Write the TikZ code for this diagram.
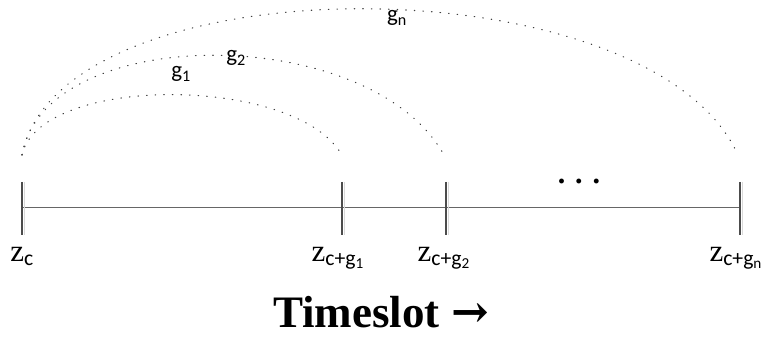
\documentclass[tikz,border=0pt]{standalone}
\usepackage{fontspec}
\setmainfont{Liberation Serif}
\newfontfamily\gfont{Carlito}
\newfontfamily\symfont{DejaVu Serif}
\usetikzlibrary{positioning}

\begin{document}
\begin{tikzpicture}[
    x=1pt, y=-1pt,
    axis/.style={draw=black!60, line width=1pt},
    tick/.style={draw=black!70, line width=1.2pt},
    tickshade/.style={draw=black!15, line width=1pt},
    arc/.style={draw=black!75, line width=1.1pt, dash pattern=on 0.6pt off 8pt, line cap=round},
    zlbl/.style={anchor=base, inner sep=0pt, font=\fontsize{31}{34}\selectfont},
    glbl/.style={inner sep=0pt, font=\gfont\fontsize{23}{26}\selectfont},
    title/.style={anchor=base, font=\bfseries\fontsize{45}{50}\selectfont}
]
\useasboundingbox (0,0) rectangle (761,339);

% Timeline ticks
\coordinate (t0) at (22,208);
\coordinate (t1) at (342,208);
\coordinate (t2) at (446,208);
\coordinate (t3) at (740,208);
\draw[axis] (t0) -- (t3);
\foreach \t in {t0,t1,t2,t3} {
  \draw[tickshade] ([xshift=2.5pt,yshift=26pt]\t) -- ([xshift=2.5pt,yshift=-27pt]\t);
  \draw[tick] ([yshift=26pt]\t) -- ([yshift=-27pt]\t);
}

% Arc end points
\coordinate (a0) at (22,155);
\coordinate (a1) at (340,152);
\coordinate (a2) at (444,155);
\coordinate (a3) at (738,155);
\draw[arc] (a0) .. controls (40,75) and (290,75) .. (a1);
\draw[arc] (a0) .. controls (45,22) and (370,22) .. (a2);
\draw[arc] (a0) .. controls (60,-40) and (650,-40) .. (a3);

% Arc labels
\node[glbl] (g1) at (181,74) {g\textsubscript{1}};
\node[glbl] (g2) at (236,58) {g\textsubscript{2}};
\node[glbl] (gn) at (397,18) {g\textsubscript{n}};

% Tick labels, centred under the ticks
\node[zlbl] (z0) at ([yshift=-54pt]t0) {z\textsubscript{\gfont c}};
\node[zlbl] (z1) at ([xshift=-4pt,yshift=-54pt]t1) {z\textsubscript{\gfont c+g\textsubscript{1}}};
\node[zlbl] (z2) at ([xshift=-2pt,yshift=-54pt]t2) {z\textsubscript{\gfont c+g\textsubscript{2}}};
\node[zlbl] (z3) at ([xshift=-4pt,yshift=-54pt]t3) {z\textsubscript{\gfont c+g\textsubscript{n}}};

\node[font=\bfseries\fontsize{30}{34}\selectfont] (dots) at (579,181) {. . .};

\node[title] (ts) at (381,327) {Timeslot {\symfont →}};
\end{tikzpicture}
\end{document}
